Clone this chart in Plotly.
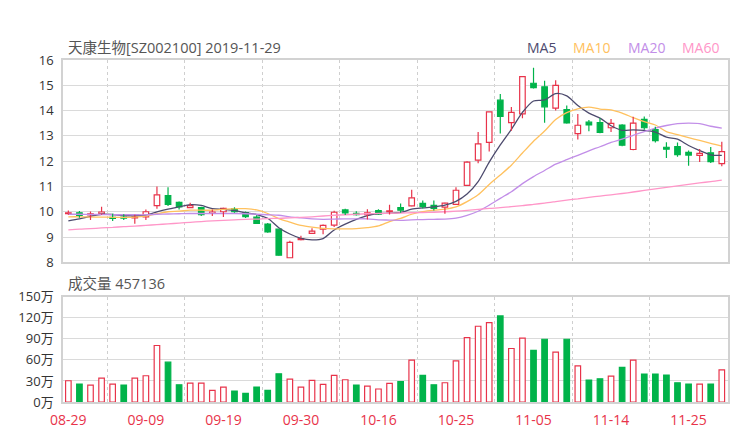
import plotly.graph_objects as go

# ---------------- data ----------------
dates = ["08-29", "08-30", "09-02", "09-03", "09-04", "09-05", "09-06", "09-09", "09-10", "09-11",
         "09-12", "09-16", "09-17", "09-18", "09-19", "09-20", "09-23", "09-24", "09-25", "09-26",
         "09-27", "09-30", "10-08", "10-09", "10-10", "10-11", "10-14", "10-15", "10-16", "10-17",
         "10-18", "10-21", "10-22", "10-23", "10-24", "10-25", "10-28", "10-29", "10-30", "10-31",
         "11-01", "11-04", "11-05", "11-06", "11-07", "11-08", "11-11", "11-12", "11-13", "11-14",
         "11-15", "11-18", "11-19", "11-20", "11-21", "11-22", "11-25", "11-26", "11-27", "11-28"]

opens = [9.92, 9.96, 9.87, 9.92, 9.78, 9.79, 9.76, 9.80, 10.24, 10.64,
         10.37, 10.16, 10.16, 9.93, 10.00, 10.12, 9.97, 9.79, 9.51, 9.31,
         8.18, 8.90, 9.14, 9.31, 9.47, 10.07, 9.94, 9.88, 10.04, 10.00,
         10.16, 10.23, 10.33, 10.25, 10.18, 10.29, 11.04, 12.04, 12.74, 14.41,
         13.52, 13.87, 15.08, 14.94, 14.10, 14.04, 13.09, 13.54, 13.52, 13.32,
         13.43, 12.46, 13.65, 13.25, 12.55, 12.58, 12.35, 12.23, 12.33, 11.90]
highs = [10.05, 10.03, 10.01, 10.20, 9.92, 9.90, 9.88, 10.09, 11.00, 10.97,
         10.40, 10.35, 10.20, 10.09, 10.16, 10.18, 10.01, 9.86, 9.55, 9.31,
         8.85, 9.05, 9.35, 9.49, 10.04, 10.12, 10.02, 10.10, 10.10, 10.28,
         10.33, 10.87, 10.44, 10.44, 10.35, 10.97, 12.00, 13.15, 13.95, 14.66,
         14.14, 15.34, 15.69, 15.18, 15.20, 14.20, 13.86, 13.63, 13.70, 13.67,
         13.46, 13.76, 13.77, 13.36, 12.75, 12.74, 12.42, 12.48, 12.56, 12.77]
lows = [9.88, 9.76, 9.67, 9.88, 9.63, 9.67, 9.52, 9.67, 10.12, 10.23,
        10.09, 10.15, 9.83, 9.83, 9.79, 9.96, 9.75, 9.53, 9.17, 8.26,
        8.18, 8.87, 9.12, 9.11, 9.40, 9.87, 9.85, 9.69, 9.87, 9.89,
        9.96, 10.22, 10.13, 10.05, 9.92, 10.27, 11.02, 11.92, 12.38, 13.09,
        13.20, 13.70, 14.87, 13.52, 14.00, 13.49, 12.86, 13.18, 13.10, 13.15,
        12.59, 12.43, 13.24, 12.74, 12.12, 12.17, 11.82, 11.97, 11.93, 11.80]
closes = [9.96, 9.85, 9.92, 9.99, 9.74, 9.75, 9.80, 10.00, 10.67, 10.29,
          10.19, 10.24, 9.88, 9.99, 10.13, 10.00, 9.81, 9.54, 9.20, 8.28,
          8.79, 8.94, 9.23, 9.46, 9.98, 9.95, 9.88, 9.96, 9.90, 10.03,
          10.06, 10.55, 10.20, 10.13, 10.34, 10.85, 11.96, 12.68, 13.95, 13.77,
          13.93, 15.34, 14.91, 14.15, 15.00, 13.51, 13.42, 13.43, 13.14, 13.49,
          12.63, 13.50, 13.32, 12.81, 12.47, 12.26, 12.24, 12.31, 11.98, 12.38]

ma5 = [9.64, 9.72, 9.82, 9.90, 9.89, 9.85, 9.84, 9.86, 9.99, 10.10,
       10.19, 10.28, 10.25, 10.12, 10.09, 10.05, 9.96, 9.89, 9.74, 9.37,
       9.12, 8.95, 8.89, 8.94, 9.28, 9.51, 9.70, 9.85, 9.93, 9.94,
       9.97, 10.10, 10.15, 10.19, 10.26, 10.41, 10.70, 11.19, 11.96, 12.64,
       13.26, 13.93, 14.38, 14.42, 14.67, 14.58, 14.20, 13.90, 13.70, 13.40,
       13.22, 13.24, 13.22, 13.15, 12.95, 12.87, 12.62, 12.42, 12.25, 12.23]
ma10 = [9.80, 9.80, 9.79, 9.79, 9.78, 9.78, 9.79, 9.83, 9.92, 10.00,
        10.02, 10.06, 10.06, 10.06, 10.09, 10.12, 10.12, 10.07, 9.93, 9.73,
        9.59, 9.46, 9.39, 9.34, 9.32, 9.32, 9.33, 9.37, 9.44, 9.61,
        9.74, 9.90, 10.00, 10.06, 10.10, 10.19, 10.40, 10.67, 11.08, 11.45,
        11.84, 12.32, 12.79, 13.19, 13.65, 13.92, 14.07, 14.14, 14.06, 14.03,
        13.90, 13.72, 13.56, 13.43, 13.17, 13.05, 12.93, 12.82, 12.70, 12.59]
ma20 = [9.90, 9.90, 9.89, 9.89, 9.88, 9.88, 9.88, 9.88, 9.90, 9.91,
        9.92, 9.93, 9.93, 9.93, 9.93, 9.93, 9.92, 9.90, 9.88, 9.86,
        9.80, 9.76, 9.72, 9.70, 9.71, 9.72, 9.72, 9.72, 9.68, 9.67,
        9.66, 9.68, 9.69, 9.70, 9.71, 9.75, 9.86, 10.02, 10.26, 10.53,
        10.79, 11.11, 11.39, 11.63, 11.88, 12.06, 12.23, 12.41, 12.57, 12.74,
        12.87, 13.02, 13.17, 13.31, 13.41, 13.48, 13.50, 13.48, 13.38, 13.31]
ma60 = [9.28, 9.31, 9.33, 9.36, 9.38, 9.41, 9.43, 9.46, 9.49, 9.52,
        9.55, 9.58, 9.61, 9.64, 9.66, 9.68, 9.70, 9.71, 9.73, 9.74,
        9.76, 9.78, 9.80, 9.83, 9.86, 9.88, 9.90, 9.92, 9.93, 9.94,
        9.95, 9.96, 9.97, 9.98, 10.00, 10.02, 10.05, 10.09, 10.13, 10.16,
        10.20, 10.24, 10.29, 10.34, 10.40, 10.46, 10.51, 10.57, 10.62, 10.67,
        10.72, 10.78, 10.84, 10.90, 10.96, 11.02, 11.08, 11.14, 11.19, 11.25]

volume_wan = [30.3, 25.6, 24.1, 34.1, 25.6, 24.1, 34.1, 37.4, 80.5, 56.8,
              24.6, 27.0, 27.0, 16.6, 21.3, 15.6, 12.3, 21.3, 16.6, 40.2,
              32.7, 21.3, 30.8, 25.1, 37.9, 31.7, 24.1, 22.7, 18.5, 26.5,
              28.9, 59.6, 37.9, 24.6, 27.4, 58.7, 91.8, 107.9, 113.1, 122.6,
              76.2, 90.9, 73.4, 89.4, 71.0, 89.4, 51.6, 31.2, 33.1, 36.9,
              49.2, 59.6, 39.8, 39.8, 38.3, 27.4, 25.6, 25.6, 25.6, 45.7136]
volume_up = [1, 0, 1, 1, 1, 0, 1, 1, 1, 0,
             0, 1, 1, 1, 1, 0, 0, 0, 0, 0,
             1, 1, 1, 1, 1, 1, 0, 1, 1, 1,
             0, 1, 0, 0, 1, 1, 1, 1, 1, 0,
             1, 1, 0, 0, 1, 0, 1, 0, 0, 1,
             0, 1, 0, 0, 0, 0, 0, 1, 0, 1]

tick_dates = ["08-29", "09-09", "09-19", "09-30", "10-16", "10-25", "11-05", "11-14", "11-25"]
price_ticks = [8, 9, 10, 11, 12, 13, 14, 15, 16]
volume_ticks = [0, 30, 60, 90, 120, 150]
volume_tick_labels = ["0万", "30万", "60万", "90万", "120万", "150万"]
ma_names = ["MA5", "MA10", "MA20", "MA60"]
title_text = "天康生物[SZ002100] 2019-11-29"
volume_title = "成交量 457136"

# ---------------- styling ----------------
OFF = 8                      # page body margin of the HTML document
W, H = 740 - OFF, 440 - OFF
ML, MR, MT, MB = 59 - OFF, 10, 60 - OFF, 38
RED = "#e8334a"
GREEN = "#00b34a"
MA_COLORS = ["#4d4b6e", "#ffc15e", "#c28ee8", "#ff96c8"]
GRID = "#dadada"
FRAME = "#d2d2d2"
FONT = "Open Sans, Noto Sans CJK SC, sans-serif"


def px_x(x):   # page pixel -> paper fraction
    return (x - OFF - ML) / (W - ML - MR)


def px_y(y):
    return (H - MB - (y - OFF)) / (H - MT - MB)


idx = list(range(len(dates)))
up = [c >= o for o, c in zip(opens, closes)]

fig = go.Figure()

# moving averages
for name, vals, col in zip(ma_names, [ma5, ma10, ma20, ma60], MA_COLORS):
    fig.add_trace(go.Scatter(x=idx, y=vals, mode="lines", name=name,
                             line=dict(color=col, width=1.3, shape="spline", smoothing=0.8),
                             hoverinfo="skip", xaxis="x", yaxis="y"))

# wicks (outside of body only)
for flag, col in [(True, RED), (False, GREEN)]:
    wx, wy = [], []
    for i in idx:
        if up[i] != flag:
            continue
        top = max(opens[i], closes[i])
        bot = min(opens[i], closes[i])
        wx += [i, i, None, i, i, None]
        wy += [top, highs[i], None, bot, lows[i], None]
    fig.add_trace(go.Scatter(x=wx, y=wy, mode="lines", line=dict(color=col, width=1.2),
                             hoverinfo="skip", xaxis="x", yaxis="y"))

# candle bodies
fig.add_trace(go.Bar(
    x=idx, y=[c - o for o, c in zip(opens, closes)], base=opens, width=0.5,
    marker=dict(color=["white" if u else GREEN for u in up],
                line=dict(color=[RED if u else GREEN for u in up], width=1.2)),
    xaxis="x", yaxis="y", hoverinfo="skip"))

# volume
fig.add_trace(go.Bar(
    x=idx, y=volume_wan, width=0.5,
    marker=dict(color=["white" if u else GREEN for u in volume_up],
                line=dict(color=[RED if u else GREEN for u in volume_up], width=1.2)),
    xaxis="x2", yaxis="y2", hoverinfo="skip"))

xr = [-0.483, 59.56]
tickvals = [dates.index(t) for t in tick_dates]
minor = dict(tick0=3.5, dtick=7, showgrid=True, gridcolor="#cfcfcf", griddash="3px,3px", gridwidth=1)

fig.update_layout(
    width=W, height=H, margin=dict(l=ML, r=MR, t=MT, b=MB),
    paper_bgcolor="white", plot_bgcolor="white", showlegend=False, barmode="overlay",
    font=dict(family=FONT, color="#333"),
    xaxis=dict(domain=[0, 1], anchor="y", range=xr, tickvals=tickvals, showticklabels=False,
               showgrid=False, minor=minor, zeroline=False, showline=True, mirror=True,
               linecolor=FRAME, linewidth=1.5, ticks=""),
    yaxis=dict(domain=[px_y(262.3), 1], anchor="x", range=[8, 16], tickvals=price_ticks,
               tickfont=dict(size=13, color="#333"), gridcolor=GRID, zeroline=False,
               showline=True, mirror=True, linecolor=FRAME, linewidth=1.5,
               ticks="outside", ticklen=5, tickcolor="rgba(0,0,0,0)"),
    xaxis2=dict(domain=[0, 1], anchor="y2", range=xr, tickvals=tickvals, ticktext=tick_dates,
                tickfont=dict(size=14, color=RED), showgrid=False, minor=minor, zeroline=False,
                showline=True, mirror=True, linecolor=FRAME, linewidth=1.5,
                ticks="outside", ticklen=4, tickcolor="rgba(0,0,0,0)"),
    yaxis2=dict(domain=[0, px_y(296.7)], anchor="x2", range=[0, 150], tickvals=volume_ticks,
                ticktext=volume_tick_labels, tickfont=dict(size=13, color="#333"), gridcolor=GRID,
                zeroline=False, showline=True, mirror=True, linecolor=FRAME, linewidth=1.5,
                ticks="outside", ticklen=5, tickcolor="rgba(0,0,0,0)"),
)

ann = [dict(text=title_text, x=px_x(62), y=px_y(47), xanchor="left", yanchor="middle",
            font=dict(size=14.5, color="#555")),
       dict(text=volume_title, x=px_x(62), y=px_y(283), xanchor="left", yanchor="middle",
            font=dict(size=14.5, color="#555"))]
for name, col, lx in zip(ma_names, MA_COLORS, [525, 572, 627, 682]):
    ann.append(dict(text=name, x=px_x(lx), y=px_y(47), xanchor="left", yanchor="middle",
                    font=dict(size=14, color=col)))
for a in ann:
    a.update(xref="paper", yref="paper", showarrow=False)
fig.update_layout(annotations=ann)

fig.write_html("out.html")
